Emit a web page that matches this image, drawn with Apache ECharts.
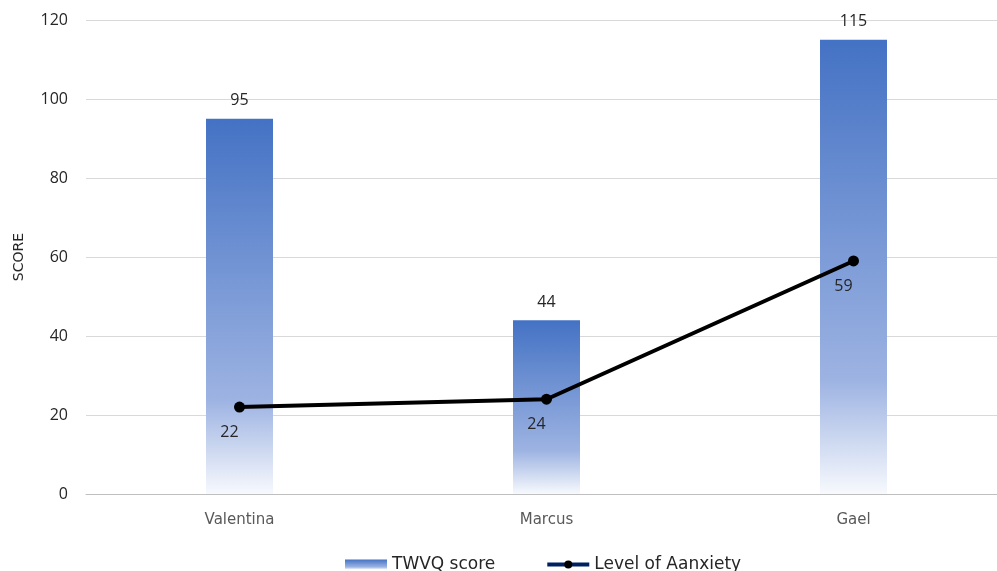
<!DOCTYPE html>
<html>
<head>
<meta charset="utf-8">
<script src="https://cdn.jsdelivr.net/npm/echarts@6/dist/echarts.min.js"></script>
<style>
  html, body { margin: 0; padding: 0; background: #fff; }
  #main { width: 997px; height: 571px; }
</style>
</head>
<body>
<div id="main"></div>
<script>
const names = ['Valentina', 'Marcus', 'Gael'];
const twvqScore = [95, 44, 115];
const anxiety = [22, 24, 59];
const yTicks = [0, 20, 40, 60, 80, 100, 120];

const chart = echarts.init(document.getElementById('main'));

const barGradient = new echarts.graphic.LinearGradient(0, 0, 0, 1, [
  {offset: 0, color: '#4472c4'},
  {offset: 0.75, color: '#9db3e2'},
  {offset: 1, color: '#f7f9fd'}
]);

let option = {
  animation: false,
  grid: {left: 86, top: 20, width: 921, height: 474, outerBoundsMode: 'none', containLabel: false},
  legend: {
    left: 340,
    top: 551,
    itemGap: 50,
    itemWidth: 42,
    itemHeight: 10,
    textStyle: {fontFamily: 'DejaVu Sans', fontSize: 17, color: '#262626'},
    data: [
      {name: 'TWVQ score', icon: 'rect'},
      {name: 'Level of Aanxiety', lineStyle: {color: '#002060', width: 4}}
    ]
  },
  xAxis: {
    type: 'category',
    data: names,
    axisLine: {lineStyle: {color: '#bfbfbf'}},
    axisTick: {show: false},
    axisLabel: {fontFamily: 'DejaVu Sans', fontSize: 15, color: '#595959', margin: 19}
  },
  yAxis: {
    type: 'value',
    min: yTicks[0],
    max: yTicks[yTicks.length - 1],
    interval: 20,
    name: 'SCORE',
    nameLocation: 'middle',
    nameGap: 60,
    nameTextStyle: {fontFamily: 'DejaVu Sans', fontSize: 14, color: '#262626'},
    axisLine: {show: false},
    axisTick: {show: false},
    axisLabel: {fontFamily: 'Open Sans', fontSize: 16, color: '#262626', margin: 18},
    splitLine: {lineStyle: {color: '#d9d9d9'}}
  },
  series: [
    {
      name: 'TWVQ score',
      type: 'bar',
      data: twvqScore,
      barWidth: 67,
      itemStyle: {color: barGradient},
      label: {show: true, position: 'top', distance: 10, fontFamily: 'Open Sans', fontSize: 16, color: '#262626'},
      z: 2
    },
    {
      name: 'Level of Aanxiety',
      type: 'line',
      data: anxiety,
      symbol: 'circle',
      symbolSize: 11,
      lineStyle: {color: '#000', width: 4},
      itemStyle: {color: '#000'},
      label: {show: true, position: 'bottom', distance: 12, offset: [-10, 0], fontFamily: 'Open Sans', fontSize: 16, color: '#262626'},
      z: 3
    }
  ]
};
chart.setOption(option);
</script>
</body>
</html>
